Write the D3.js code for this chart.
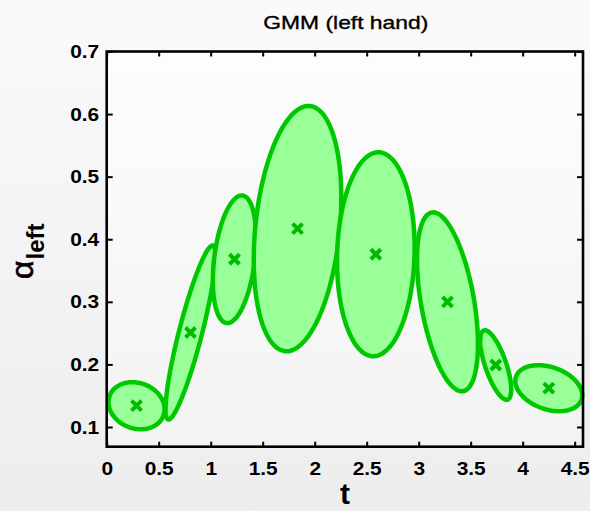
<!DOCTYPE html>
<html>
<head>
<meta charset="utf-8">
<script src="https://cdn.jsdelivr.net/npm/d3@7"></script>
<style>
  html, body { margin: 0; padding: 0; background: #f4f4f4; }
  svg { display: block; }
  text { font-family: "Liberation Sans", Arial, sans-serif; fill: #000; }
</style>
</head>
<body>
<svg id="chart" width="590" height="511"></svg>
<script>
// Gaussian mixture components: means along t and alpha
const meanT = [0.287, 0.806, 1.229, 1.835, 2.588, 3.277, 3.741, 4.251];
const meanA = [0.134, 0.251, 0.368, 0.417, 0.376, 0.300, 0.199, 0.162];
// Contour half-extents along t and alpha, and the t/alpha correlation
const spreadT = [0.270, 0.240, 0.208, 0.421, 0.373, 0.293, 0.149, 0.322];
const spreadA = [0.0376, 0.139, 0.102, 0.196, 0.163, 0.143, 0.0555, 0.0368];
const corr = [-0.15, 0.88, 0.33, 0.25, 0.065, -0.47, -0.70, -0.31];

// Axis ticks
const tTicks = [0, 0.5, 1, 1.5, 2, 2.5, 3, 3.5, 4, 4.5];
const tTickLabels = ["0", "0.5", "1", "1.5", "2", "2.5", "3", "3.5", "4", "4.5"];
const aTicks = [0.1, 0.2, 0.3, 0.4, 0.5, 0.6, 0.7];
const aTickLabels = ["0.1", "0.2", "0.3", "0.4", "0.5", "0.6", "0.7"];

const W = 590, H = 511;
const plot = { left: 106.7, right: 583, top: 51.5, bottom: 446.7 };

const x = d3.scaleLinear().domain([0, 4.58]).range([plot.left, plot.right]);
const y = d3.scaleLinear().domain([0.0685, 0.7]).range([plot.bottom, plot.top]);

const svg = d3.select("#chart");
const defs = svg.append("defs");

const bgGrad = defs.append("linearGradient").attr("id", "bg")
  .attr("x1", 0).attr("y1", 0).attr("x2", 0).attr("y2", 1);
bgGrad.append("stop").attr("offset", "0%").attr("stop-color", "#fafafa");
bgGrad.append("stop").attr("offset", "100%").attr("stop-color", "#ededed");

const plotGrad = defs.append("linearGradient").attr("id", "plotbg")
  .attr("x1", 0).attr("y1", 0).attr("x2", 0).attr("y2", 1);
plotGrad.append("stop").attr("offset", "0%").attr("stop-color", "#fdfdfd");
plotGrad.append("stop").attr("offset", "100%").attr("stop-color", "#f3f3f3");

svg.append("rect").attr("width", W).attr("height", H).attr("fill", "url(#bg)");
svg.append("rect")
  .attr("x", plot.left).attr("y", plot.top)
  .attr("width", plot.right - plot.left).attr("height", plot.bottom - plot.top)
  .attr("fill", "url(#plotbg)");

// stretch text horizontally by a factor, keeping its anchor
function widen(sel, k) {
  sel.each(function () {
    const L = this.getComputedTextLength();
    this.setAttribute("textLength", (L * k).toFixed(2));
    this.setAttribute("lengthAdjust", "spacingAndGlyphs");
  });
}

// ellipse contours
const components = meanT.map((m, i) => ({
  mt: m, ma: meanA[i], st: spreadT[i], sa: spreadA[i], r: corr[i]
}));

const line = d3.line().curve(d3.curveLinearClosed);
function contour(c) {
  const n = 120, s = Math.sqrt(1 - c.r * c.r);
  const pts = [];
  for (let k = 0; k < n; k++) {
    const th = (2 * Math.PI * k) / n;
    const tv = c.mt + c.st * Math.cos(th);
    const av = c.ma + c.sa * (c.r * Math.cos(th) + s * Math.sin(th));
    pts.push([x(tv), y(av)]);
  }
  return line(pts);
}

const g = svg.append("g");
g.selectAll("path.ell")
  .data(components)
  .join("path")
  .attr("class", "ell")
  .attr("d", contour)
  .attr("fill", "#99ff99")
  .attr("stroke", "#00c800")
  .attr("stroke-width", 4.5);

// component means
g.selectAll("path.mean")
  .data(components)
  .join("path")
  .attr("class", "mean")
  .attr("transform", d => `translate(${x(d.mt)},${y(d.ma)})`)
  .attr("d", "M-5,-5L5,5M-5,5L5,-5")
  .attr("stroke", "#00bb00")
  .attr("stroke-width", 4)
  .attr("fill", "none");

// axes, ticks pointing inward on all four sides
const fontSize = 19;
const xAxis = d3.axisBottom(x).tickValues(tTicks)
  .tickFormat((d, i) => tTickLabels[i]).tickSizeInner(-5).tickSizeOuter(0).tickPadding(15);
const xTop = d3.axisTop(x).tickValues(tTicks).tickFormat("").tickSizeInner(-5).tickSizeOuter(0);
const yAxis = d3.axisLeft(y).tickValues(aTicks)
  .tickFormat((d, i) => aTickLabels[i]).tickSizeInner(-6).tickSizeOuter(0).tickPadding(7.5);
const yRight = d3.axisRight(y).tickValues(aTicks).tickFormat("").tickSizeInner(-6).tickSizeOuter(0);

function styleAxis(sel) {
  sel.select(".domain").remove();
  sel.selectAll(".tick line").attr("stroke", "#000").attr("stroke-width", 2);
  sel.selectAll(".tick text")
    .style("font-size", fontSize + "px")
    .style("font-weight", "bold")
    .attr("fill", "#000");
}

const gx = svg.append("g").attr("transform", `translate(0,${plot.bottom})`).call(xAxis).call(styleAxis);
svg.append("g").attr("transform", `translate(0,${plot.top})`).call(xTop).call(styleAxis);
const gy = svg.append("g").attr("transform", `translate(${plot.left},0)`).call(yAxis).call(styleAxis);
svg.append("g").attr("transform", `translate(${plot.right},0)`).call(yRight).call(styleAxis);
widen(gx.selectAll(".tick text"), 1.1);
widen(gy.selectAll(".tick text"), 1.1);

// axes box
svg.append("rect")
  .attr("x", plot.left).attr("y", plot.top)
  .attr("width", plot.right - plot.left).attr("height", plot.bottom - plot.top)
  .attr("fill", "none").attr("stroke", "#000").attr("stroke-width", 2.6);

// title
svg.append("text")
  .attr("x", 345.8).attr("y", 28.5)
  .attr("text-anchor", "middle")
  .style("font-size", "18.5px")
  .style("stroke", "#000").style("stroke-width", 0.35)
  .attr("textLength", 165).attr("lengthAdjust", "spacingAndGlyphs")
  .text("GMM (left hand)");

// x label
svg.append("text")
  .attr("x", 345).attr("y", 504)
  .attr("text-anchor", "middle")
  .style("font-size", "30px")
  .style("font-weight", "bold")
  .text("t");

// y label: alpha with subscript
const yl = svg.append("text")
  .attr("transform", "translate(33,279) rotate(-90)")
  .style("font-size", "32px")
  .style("stroke", "#000").style("stroke-width", 0.6);
yl.append("tspan").text("α");
yl.append("tspan").attr("dy", 11).attr("dx", 1)
  .style("font-size", "24px").style("font-weight", "bold").style("stroke-width", 0)
  .text("left");
</script>
</body>
</html>
